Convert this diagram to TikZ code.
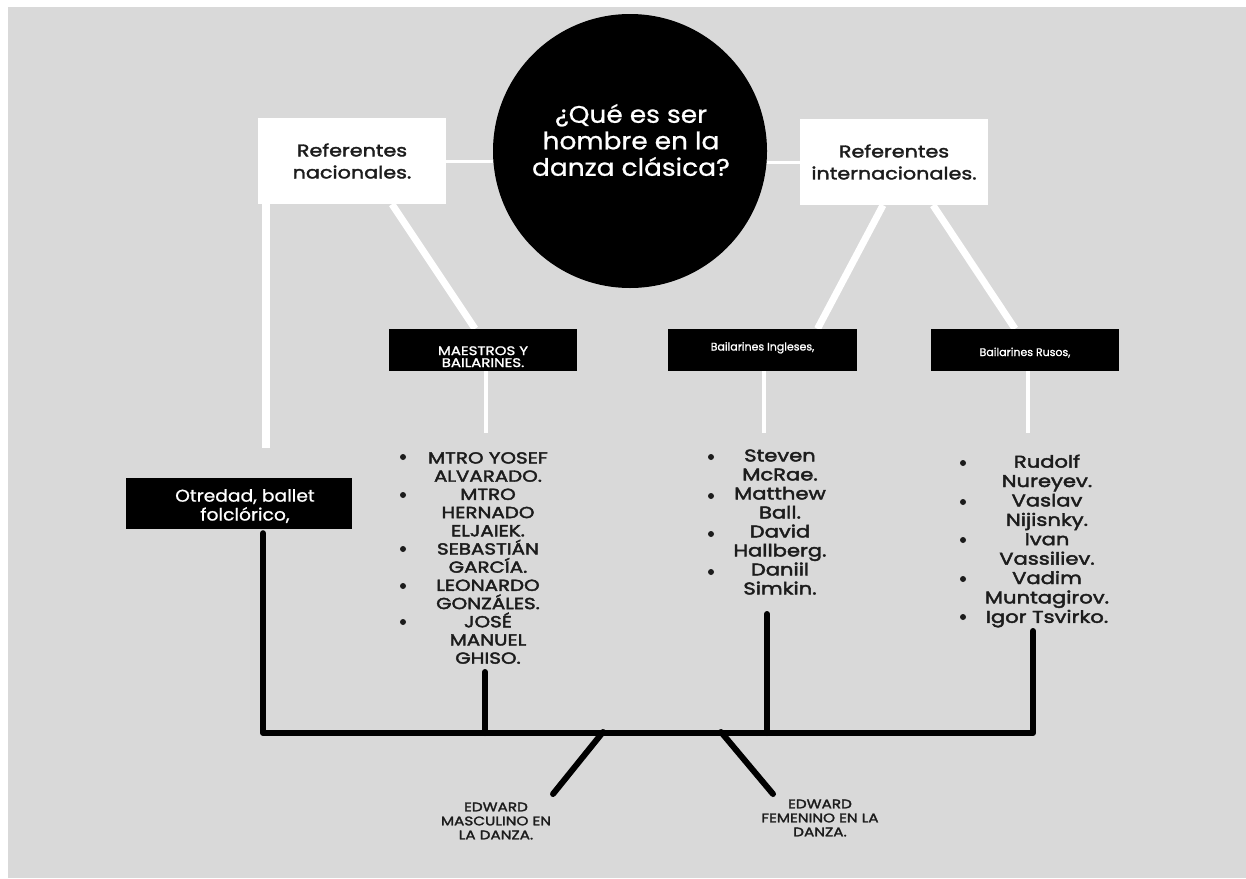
\documentclass[tikz,border=0pt]{standalone}
\usepackage{fontspec}
\setmainfont{Poppins}
\newfontfamily\listf{Poppins}[FakeBold=2.5, FakeStretch=1.24]
\newfontfamily\reff{Poppins}[FakeBold=2, FakeStretch=1.22]
\newfontfamily\boxf{Poppins}[FakeBold=1.5, FakeStretch=1.2]
\newfontfamily\smallf{Poppins}[FakeBold=1.2]
\newfontfamily\otrf{Poppins}[FakeBold=1, FakeStretch=1.1]
\newfontfamily\circf{Poppins}[FakeBold=0.8, FakeStretch=1.1]
\usetikzlibrary{backgrounds}
\definecolor{bg}{HTML}{D9D9D9}
\definecolor{ink}{HTML}{1C1C1C}
\pgfdeclarelayer{bglayer}
\pgfsetlayers{bglayer,background,main}
\begin{document}
\begin{tikzpicture}[x=1pt,y=-1pt,
  wbox/.style={fill=white, minimum width=188pt, minimum height=86pt, inner sep=0pt, align=center, text=ink, font=\reff\fontsize{17}{22}\selectfont},
  bbox/.style={fill=black, inner sep=0pt, align=center, text=white},
  wline/.style={draw=white, line width=#1},
  bline/.style={draw=black, line width=6pt, line cap=round, line join=round},
  listtxt/.style={align=center, text=ink, inner sep=0pt},
  bul/.style={circle, fill=ink, inner sep=0pt, minimum size=6pt},
  edw/.style={align=center, text=ink, inner sep=0pt, font=\reff\fontsize{12.5}{14}\selectfont}
]
\useasboundingbox (0,0) rectangle (1246,878);
\begin{pgfonlayer}{bglayer}
  \fill[white] (0,0) rectangle (1246,878);
  \fill[bg] (8,7) rectangle (1246,878);
\end{pgfonlayer}

% central circle
\node[circle, fill=black, minimum size=274pt, inner sep=0pt] (q) at (630,151) {};
\node[align=center, text=white, inner sep=0pt, font=\circf\fontsize{24}{26.5}\selectfont] (qt) at (631,140) {¿Qué es ser\\hombre en la\\danza clásica?};

% white boxes
\node[wbox] (nac) at (352,161) {Referentes\\nacionales.};
\node[wbox] (int) at (894,162) {Referentes\\internacionales.};

% black boxes
\node[bbox, minimum width=188pt, minimum height=42pt, font=\boxf\fontsize{12.5}{12.5}\selectfont] (mae) at (483,350) {\raisebox{-17pt}[0pt][0pt]{\shortstack{MAESTROS Y\\BAILARINES.}}};
\node[bbox, minimum width=189pt, minimum height=42pt, font=\smallf\fontsize{11}{12}\selectfont] (ing) at (762.5,350) {\raisebox{-0.5pt}[0pt][0pt]{Bailarines Ingleses,}};
\node[bbox, minimum width=188pt, minimum height=42pt, font=\smallf\fontsize{11}{12}\selectfont] (rus) at (1025,350) {\raisebox{-6pt}[0pt][0pt]{Bailarines Rusos,}};
\node[bbox, minimum width=226pt, minimum height=51pt, font=\otrf\fontsize{17}{18}\selectfont] (otr) at (239,503.5) {\raisebox{-17pt}[0pt][0pt]{\shortstack{\hspace*{12pt}Otredad, ballet\\\hspace*{12pt}folclórico,}}};

% lists
\node[listtxt, font=\listf\fontsize{16}{18.2}\selectfont] (lmae) at (488,558) {MTRO YOSEF\\ALVARADO.\\MTRO\\HERNADO\\ELJAIEK.\\SEBASTIÁN\\GARCÍA.\\LEONARDO\\GONZÁLES.\\JOSÉ\\MANUEL\\GHISO.};
\foreach \y [count=\i] in {457,495,549,586,622} \node[bul] (bm\i) at (403,\y) {};

\node[listtxt, font=\listf\fontsize{17}{19}\selectfont] (ling) at (780,522) {Steven\\McRae.\\Matthew\\Ball.\\David\\Hallberg.\\Daniil\\Simkin.};
\foreach \y [count=\i] in {457,496,534,572} \node[bul] (bi\i) at (711,\y) {};

\node[listtxt, font=\listf\fontsize{17}{19.4}\selectfont] (lrus) at (1047,541) {Rudolf\\Nureyev.\\Vaslav\\Nijisnky.\\Ivan\\Vassiliev.\\Vadim\\Muntagirov.\\Igor Tsvirko.};
\foreach \y [count=\i] in {463,502,540,579,617} \node[bul] (br\i) at (963,\y) {};

% bottom labels
\node[edw] (em) at (496,821) {EDWARD\\MASCULINO EN\\LA DANZA.};
\node[edw] (ef) at (820,818) {EDWARD\\FEMENINO EN LA\\DANZA.};

% coordinates
\coordinate (nvend) at (266,448);
\coordinate (maeW) at (486,433);
\coordinate (ingW) at (764,433);
\coordinate (rusW) at (1028,433);
\coordinate (bl) at (263,733);
\coordinate (br) at (1033,733);
\coordinate (maeB) at (485,672);
\coordinate (ingB) at (767,614);
\coordinate (rusB) at (1033,631);
\coordinate (dm1) at (603,732);
\coordinate (dm2) at (553,794);
\coordinate (df1) at (721,732);
\coordinate (df2) at (773,794);

\begin{pgfonlayer}{background}
  % white connectors
  \draw[wline=3pt] (nac.east) -- (nac.east -| q.west);
  \draw[wline=3pt] (int.west) -- (int.west -| q.east);
  \draw[wline=8pt] (nvend |- nac.south) -- (nvend);
  \draw[wline=7pt] ([xshift=40pt]nac.south) -- ([xshift=-8pt]mae.north);
  \draw[wline=7pt] ([xshift=-11pt]int.south) -- ([xshift=55pt]ing.north);
  \draw[wline=7pt] ([xshift=39pt]int.south) -- ([xshift=-10pt]rus.north);
  \draw[wline=4pt] (maeW |- mae.south) -- (maeW);
  \draw[wline=4pt] (ingW |- ing.south) -- (ingW);
  \draw[wline=4pt] (rusW |- rus.south) -- (rusW);
  % black connectors
  \draw[bline] ([yshift=-4pt]bl |- otr.south) -- (bl) -- (br) -- (rusB);
  \draw[bline] (maeB) -- (maeB |- bl);
  \draw[bline] (ingB) -- (ingB |- bl);
  \draw[bline] (dm1) -- (dm2);
  \draw[bline] (df1) -- (df2);
\end{pgfonlayer}
\end{tikzpicture}
\end{document}
